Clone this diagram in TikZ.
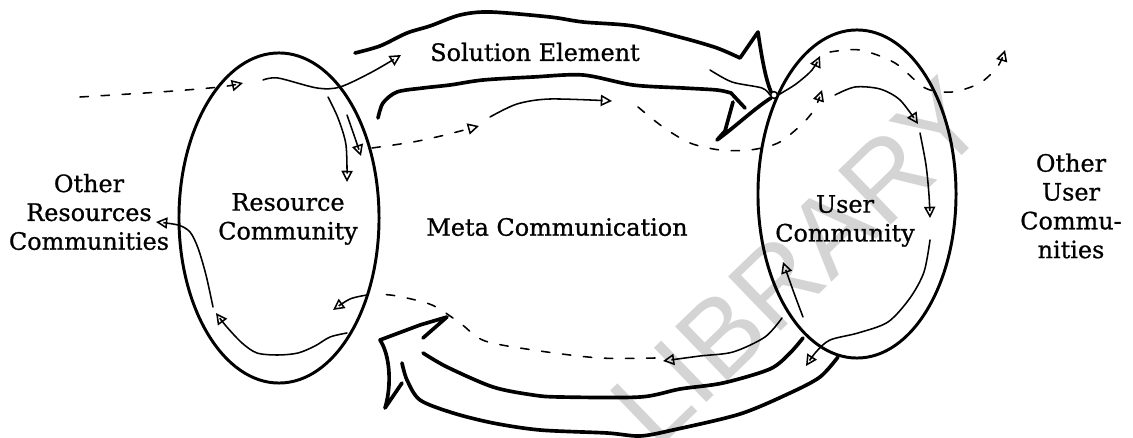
\documentclass[tikz,border=0pt]{standalone}
\usepackage{fontspec}
\setmainfont{DejaVu Serif}
\newfontfamily\lblfont{DejaVu Serif}[FakeBold=0.8]
\newfontfamily\wmfont{Liberation Sans}
\usetikzlibrary{arrows.meta,shapes.geometric}

\tikzset{
  ring/.style={draw, line width=2.1pt},
  band/.style={line width=2.6pt, line cap=round, line join=round},
  flow/.style={line width=1.1pt, line cap=round},
  dflow/.style={flow, dash pattern=on 6pt off 9pt},
  tip/.style={-{Triangle[open, length=8pt, width=8pt, line width=1.1pt]}},
  lbl/.style={font=\lblfont\fontsize{17}{20.5}\selectfont, inner sep=0pt, align=center},
}

\begin{document}
\begin{tikzpicture}[x=0.025cm, y=-0.025cm]
\path[use as bounding box, fill=white] (0,0) rectangle (1133,438);

% watermark
\node[rotate=44, text=black!17, font=\wmfont\fontsize{78}{78}\selectfont] (wm) at (798,262) {LIBRARY};

% the two communities
\node[ellipse, ring, minimum width=5cm, minimum height=8.25cm, inner sep=0pt] (rc) at (279,218) {};
\node[ellipse, ring, minimum width=4.95cm, minimum height=8.2cm, inner sep=0pt] (uc) at (857,194) {};

% labels
\node[lbl] (sol)  at (535,52)  {Solution Element};
\node[lbl] (meta) at (557,227) {Meta Communication};
\node[lbl] (rct)  at (288,219) {Resource\\Community};
\node[lbl] (uct)  at (845,221) {User\\Community};
\node[lbl] (orc)  at (89,212)  {Other\\Resources\\Communities};
\node[lbl] (ouc)  at (1071,206) {Other\\User\\Commu-\\nities};

% junction where the solution element reaches the user community
\node[circle, draw, fill=white, line width=1.1pt, inner sep=0pt, minimum size=0.17cm] (jn) at (774,95) {};

% ---- solution element: broad arrow across the top ----
\draw[band] plot[smooth, tension=0.5] coordinates {(355,53) (380,46) (407,33) (430,26) (460,15) (490,12) (550,17) (583,22) (633,26) (683,38) (717,48) (740,58)}
  -- (758,32) .. controls (762,60) and (766,80) .. (jn.north west);
\draw[band] plot[smooth, tension=0.5] coordinates {(378,118) (383,103) (397,92) (423,88) (450,85) (483,80) (533,77) (583,75) (633,85) (683,88) (717,90) (731,93)}
  -- (745,108);
\draw[band] (733,102) -- (725,131) -- (717,140) .. controls (735,127) and (755,108) .. (jn.south west);

% ---- meta communication: broad return arrow along the bottom ----
\draw[band] plot[smooth, tension=0.5] coordinates {(423,353) (447,367) (493,387) (533,395) (560,397) (640,397) (680,389) (723,383) (770,369) (790,353) (803,338)};
\draw[band] plot[smooth, tension=0.5] coordinates {(402,363) (407,380) (420,400) (453,413) (493,423) (540,430) (607,433) (640,436) (673,430) (740,414) (790,393) (820,377) (838,357)};
\draw[band] (423,338) -- (447,317) -- (420,325) -- (380,340)
  .. controls (390,355) and (392,385) .. (385,408) -- (402,383);

% ---- thin flows ----
\coordinate (a1) at (80,97);   \coordinate (a2) at (243,83);
\draw[dflow, tip] plot[smooth] coordinates {(a1) (160,92) (220,87) (a2)};

\coordinate (b1) at (263,80);  \coordinate (b2) at (401,55);
\draw[flow, tip] plot[smooth] coordinates {(b1) (278,78) (317,88) (340,87) (372,72) (b2)};

\coordinate (c1) at (328,97);  \coordinate (c2) at (347,182);
\draw[flow, tip] plot[smooth] coordinates {(c1) (338,118) (346,145) (c2)};

\coordinate (d1) at (347,115); \coordinate (d2) at (361,156);
\draw[flow, tip] plot[smooth] coordinates {(d1) (355,138) (d2)};

\coordinate (e1) at (372,148); \coordinate (e2) at (479,126);
\draw[dflow, tip] plot[smooth] coordinates {(e1) (413,142) (445,135) (e2)};

\coordinate (f1) at (490,117); \coordinate (f2) at (612,101);
\draw[flow, tip] plot[smooth] coordinates {(f1) (517,104) (550,99) (f2)};

\coordinate (g1) at (638,107); \coordinate (g2) at (822,90);
\draw[dflow, tip] plot[smooth] coordinates {(g1) (663,127) (690,143) (720,150) (750,150) (778,143) (800,126) (814,110) (g2)};

\coordinate (h1) at (710,70);
\draw[flow] plot[smooth] coordinates {(h1) (732,82) (762,88) (jn.west)};

\coordinate (i2) at (820,56);
\draw[flow, tip] plot[smooth] coordinates {(jn.east) (796,84) (812,70) (i2)};

\coordinate (k1) at (830,52);  \coordinate (k2) at (1005,50);
\draw[dflow, tip] plot[smooth] coordinates {(k1) (860,50) (895,63) (925,88) (952,92) (980,83) (998,66) (k2)};

\coordinate (m1) at (835,95);  \coordinate (m2) at (918,124);
\draw[flow, tip] plot[smooth] coordinates {(m1) (855,87) (880,89) (900,100) (m2)};

\coordinate (n1) at (920,133); \coordinate (n2) at (930,218);
\draw[flow, tip] plot[smooth] coordinates {(n1) (926,165) (929,195) (n2)};

\coordinate (p1) at (930,240); \coordinate (p2) at (806,366);
\draw[flow, tip] plot[smooth] coordinates {(p1) (924,272) (910,298) (888,322) (858,333) (830,340) (816,352) (p2)};

\coordinate (q1) at (803,317); \coordinate (q2) at (783,262);
\draw[flow, tip] plot[smooth] coordinates {(q1) (794,293) (q2)};

\coordinate (r1) at (782,318); \coordinate (r2) at (663,361);
\draw[flow, tip] plot[smooth] coordinates {(r1) (765,337) (733,352) (700,356) (r2)};

\coordinate (s1) at (655,358); \coordinate (s2) at (376,294);
\draw[dflow] plot[smooth] coordinates {(s1) (600,358) (540,351) (485,341) (460,323) (432,305) (397,296) (s2)};

\coordinate (u1) at (367,295); \coordinate (u2) at (333,310);
\draw[flow, tip] plot[smooth] coordinates {(u1) (350,299) (u2)};

\coordinate (v1) at (347,333); \coordinate (v2) at (216,313);
\draw[flow, tip] plot[smooth] coordinates {(v1) (330,337) (315,346) (298,353) (278,355) (257,353) (242,343) (226,326) (v2)};

\coordinate (w1) at (213,307); \coordinate (w2) at (156,222);
\draw[flow, tip] plot[smooth] coordinates {(w1) (206,275) (198,248) (190,232) (178,225) (w2)};

\end{tikzpicture}
\end{document}
